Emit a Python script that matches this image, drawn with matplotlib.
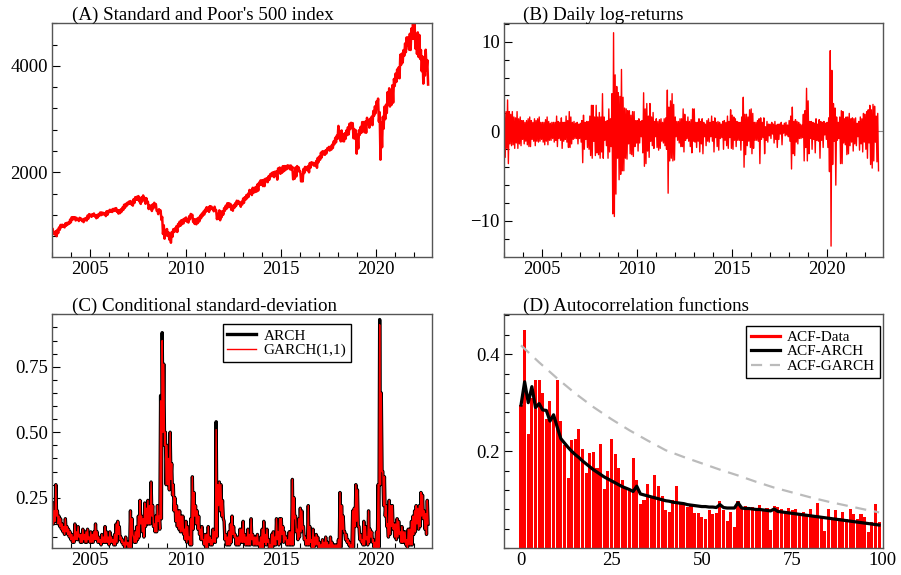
import matplotlib
matplotlib.use("Agg")
import matplotlib.pyplot as plt
from matplotlib.lines import Line2D
from matplotlib.ticker import MultipleLocator
import numpy as np

plt.rcParams['font.family'] = ['Liberation Serif', 'DejaVu Serif']

# --- monthly data, Jan 2003 .. Sep 2022 ---
START = 2003.0

# (A) S&P 500: monthly high / low of the daily close
spx_hi = [
    931, 860, 895, 919, 964, 1011, 1015, 1009, 1039, 1050, 1059, 1112,      # 2003
    1155, 1157, 1156, 1145, 1122, 1145, 1129, 1108, 1129, 1142, 1187, 1214,  # 2004
    1202, 1211, 1226, 1191, 1198, 1217, 1245, 1245, 1237, 1233, 1268, 1273,  # 2005
    1295, 1294, 1311, 1318, 1326, 1289, 1282, 1305, 1339, 1389, 1406, 1427,  # 2006
    1448, 1459, 1444, 1495, 1531, 1539, 1553, 1497, 1531, 1565, 1520, 1515,  # 2007
    1447, 1381, 1370, 1397, 1427, 1404, 1285, 1306, 1282, 1161, 1005, 916,   # 2008
    934, 870, 833, 877, 930, 946, 987, 1028, 1072, 1097, 1110, 1128,         # 2009
    1150, 1109, 1174, 1217, 1202, 1116, 1115, 1127, 1148, 1186, 1225, 1260,  # 2010
    1299, 1344, 1333, 1364, 1357, 1320, 1353, 1287, 1216, 1285, 1262, 1266,  # 2011
    1326, 1372, 1417, 1419, 1406, 1363, 1385, 1419, 1466, 1461, 1428, 1446,  # 2012
    1507, 1530, 1570, 1597, 1669, 1655, 1709, 1707, 1726, 1772, 1807, 1848,  # 2013
    1848, 1859, 1878, 1890, 1924, 1963, 1988, 2003, 2011, 2018, 2073, 2090,  # 2014
    2063, 2115, 2117, 2117, 2131, 2124, 2128, 2102, 1995, 2090, 2117, 2092,  # 2015
    2016, 1951, 2063, 2102, 2099, 2119, 2175, 2190, 2180, 2164, 2213, 2272,  # 2016
    2298, 2370, 2396, 2391, 2415, 2453, 2477, 2481, 2519, 2581, 2648, 2690,  # 2017
    2873, 2762, 2787, 2708, 2733, 2786, 2847, 2914, 2931, 2925, 2814, 2790,  # 2018
    2705, 2792, 2854, 2945, 2945, 2954, 3025, 2980, 3007, 3047, 3154, 3240,  # 2019
    3330, 3386, 3130, 2939, 3044, 3232, 3272, 3508, 3580, 3535, 3638, 3756,  # 2020
    3855, 3934, 3975, 4211, 4232, 4298, 4423, 4537, 4537, 4605, 4705, 4793,  # 2021
    4797, 4589, 4631, 4583, 4300, 4177, 4130, 4305, 4110,                    # 2022
]
spx_lo = [
    844, 827, 800, 858, 920, 968, 975, 965, 995, 1018, 1035, 1061,
    1106, 1128, 1095, 1107, 1084, 1116, 1084, 1064, 1099, 1095, 1130, 1177,
    1163, 1189, 1172, 1137, 1154, 1190, 1194, 1208, 1208, 1177, 1202, 1248,
    1262, 1254, 1273, 1285, 1256, 1224, 1234, 1263, 1294, 1331, 1364, 1396,
    1409, 1399, 1374, 1424, 1484, 1487, 1455, 1406, 1453, 1500, 1409, 1445,
    1310, 1326, 1273, 1324, 1375, 1278, 1214, 1249, 1106, 840, 752, 816,
    805, 735, 676, 789, 880, 893, 879, 979, 995, 1025, 1042, 1088,
    1073, 1056, 1116, 1178, 1067, 1030, 1023, 1047, 1081, 1137, 1178, 1206,
    1258, 1276, 1256, 1305, 1316, 1268, 1292, 1119, 1129, 1099, 1158, 1205,
    1277, 1313, 1343, 1358, 1295, 1278, 1334, 1365, 1403, 1408, 1353, 1398,
    1426, 1485, 1512, 1541, 1597, 1573, 1614, 1630, 1639, 1656, 1762, 1775,
    1741, 1741, 1834, 1815, 1862, 1924, 1930, 1909, 1946, 1862, 2018, 1972,
    1992, 2020, 2040, 2061, 2080, 2058, 2046, 1868, 1882, 1923, 2023, 2012,
    1829, 1829, 1986, 2041, 2040, 2000, 2089, 2157, 2127, 2126, 2085, 2191,
    2238, 2280, 2341, 2329, 2357, 2419, 2409, 2426, 2457, 2529, 2564, 2629,
    2695, 2581, 2588, 2581, 2629, 2699, 2714, 2813, 2877, 2641, 2633, 2351,
    2448, 2706, 2744, 2867, 2752, 2744, 2964, 2840, 2906, 2887, 3066, 3113,
    3225, 2954, 2237, 2471, 2820, 2999, 3115, 3271, 3237, 3270, 3310, 3622,
    3700, 3773, 3768, 4019, 4063, 4192, 4258, 4387, 4307, 4300, 4513, 4513,
    4326, 4225, 4170, 4132, 3901, 3667, 3818, 3924, 3650,
]

# (B) daily log-returns (%): monthly maximum / minimum
ret_hi = [
    1.9, 2.2, 3.5, 2.2, 1.9, 2.2, 1.6, 1.5, 2.2, 1.4, 1.6, 1.2,
    1.2, 1.0, 1.2, 1.4, 1.6, 1.2, 1.0, 1.4, 1.2, 1.4, 1.6, 1.0,
    1.0, 1.0, 1.3, 1.6, 1.1, 0.9, 1.0, 1.0, 1.0, 1.7, 1.1, 1.0,
    1.5, 1.0, 1.0, 1.7, 1.2, 2.2, 1.6, 1.0, 1.1, 0.9, 1.0, 0.8,
    0.9, 1.2, 1.8, 1.0, 1.1, 1.1, 1.7, 2.9, 2.9, 1.6, 2.9, 1.6,
    2.1, 1.6, 4.2, 1.6, 1.1, 1.2, 2.5, 1.4, 4.2, 11.0, 6.3, 5.0,
    4.3, 3.9, 6.9, 3.8, 2.6, 2.5, 2.3, 2.3, 1.8, 2.2, 2.2, 1.2,
    1.2, 1.4, 1.1, 1.2, 4.3, 2.5, 3.1, 1.7, 3.1, 1.6, 2.1, 1.1,
    1.4, 1.1, 1.3, 1.4, 1.0, 1.4, 1.5, 4.6, 2.7, 3.4, 4.2, 3.0,
    1.6, 1.1, 1.1, 1.4, 1.4, 2.5, 1.9, 1.1, 1.6, 1.1, 1.3, 2.5,
    2.5, 1.0, 1.0, 1.4, 1.1, 1.4, 1.0, 0.8, 1.2, 1.4, 1.0, 1.7,
    1.1, 1.5, 1.0, 1.1, 1.0, 0.8, 1.1, 1.2, 1.0, 1.7, 1.1, 2.4,
    1.8, 1.6, 1.4, 1.1, 1.0, 1.0, 1.6, 3.8, 1.9, 1.9, 1.6, 2.4,
    2.5, 2.0, 1.0, 1.0, 1.2, 1.4, 1.5, 1.0, 1.5, 0.5, 1.1, 0.8,
    0.8, 1.0, 0.8, 1.1, 0.7, 0.8, 0.8, 1.0, 0.7, 0.9, 1.0, 0.7,
    1.2, 1.7, 2.7, 1.1, 1.3, 1.1, 1.0, 0.8, 0.7, 1.9, 2.3, 4.8,
    3.4, 1.1, 1.1, 1.0, 0.9, 1.4, 0.8, 1.3, 1.1, 1.0, 1.1, 0.9,
    1.0, 1.5, 9.0, 6.8, 3.1, 2.6, 1.6, 1.0, 1.6, 2.3, 2.2, 1.4,
    1.6, 1.6, 2.0, 1.4, 1.5, 1.4, 1.5, 0.9, 1.1, 1.6, 1.4, 2.0,
    1.9, 2.2, 2.4, 2.9, 2.4, 3.0, 2.8, 1.7, 2.0,
]
ret_lo = [
    -2.9, -1.9, -3.6, -1.4, -1.6, -1.5, -1.9, -1.3, -1.9, -1.4, -1.6, -0.9,
    -1.4, -1.1, -1.5, -1.7, -1.7, -0.9, -1.1, -1.6, -1.1, -1.2, -1.1, -0.9,
    -1.2, -1.5, -1.1, -1.5, -1.0, -1.0, -0.8, -1.2, -1.0, -1.7, -0.8, -1.0,
    -1.9, -1.1, -0.9, -1.2, -1.8, -1.8, -1.4, -0.9, -0.8, -0.8, -1.4, -0.8,
    -1.2, -3.5, -2.0, -0.9, -1.8, -2.0, -2.7, -3.0, -1.1, -2.7, -2.4, -2.6,
    -3.0, -2.3, -3.0, -1.0, -1.6, -3.0, -2.3, -1.7, -9.2, -9.5, -7.0, -3.0,
    -5.4, -4.8, -4.4, -4.4, -3.0, -3.1, -1.4, -2.5, -2.6, -2.8, -1.7, -1.3,
    -2.2, -1.3, -0.6, -2.4, -3.9, -3.6, -2.2, -2.9, -1.1, -1.6, -1.9, -0.6,
    -1.8, -2.1, -1.9, -1.1, -1.3, -1.6, -2.0, -6.9, -3.3, -3.0, -3.3, -3.2,
    -0.6, -1.0, -1.3, -1.7, -1.7, -2.3, -1.0, -0.8, -1.1, -1.7, -2.4, -1.1,
    -1.2, -1.8, -1.1, -2.3, -1.4, -2.5, -0.6, -1.6, -1.1, -1.2, -0.6, -1.1,
    -2.3, -0.7, -1.7, -2.1, -0.8, -0.7, -2.0, -1.0, -1.6, -1.9, -0.7, -1.9,
    -2.0, -1.0, -1.7, -1.0, -1.0, -2.1, -1.0, -4.0, -2.6, -1.6, -1.1, -1.8,
    -2.5, -1.9, -1.0, -1.0, -1.1, -3.6, -0.9, -0.7, -2.5, -1.0, -1.2, -0.5,
    -0.8, -0.3, -1.3, -0.9, -1.8, -0.9, -0.3, -1.5, -0.2, -0.5, -0.4, -0.6,
    -1.1, -4.2, -2.5, -2.7, -1.2, -1.4, -0.8, -0.8, -0.7, -3.3, -1.8, -3.3,
    -2.5, -0.8, -2.0, -0.9, -2.4, -1.0, -1.1, -3.0, -1.0, -1.8, -0.4, -0.9,
    -1.8, -4.5, -12.8, -3.7, -1.1, -6.0, -1.0, -0.8, -3.6, -3.6, -1.3, -1.5,
    -2.6, -2.5, -1.6, -1.2, -2.2, -1.4, -1.6, -0.6, -2.1, -1.4, -2.3, -1.2,
    -2.0, -3.0, -1.3, -3.7, -4.1, -3.3, -1.2, -3.4, -4.4,
]

# (C) conditional standard deviation, GARCH(1,1): monthly high / low
garch_hi = [
    0.23, 0.20, 0.30, 0.20, 0.18, 0.17, 0.15, 0.14, 0.17, 0.14, 0.13, 0.12,
    0.11, 0.10, 0.15, 0.12, 0.14, 0.11, 0.11, 0.13, 0.11, 0.12, 0.13, 0.10,
    0.12, 0.11, 0.12, 0.15, 0.12, 0.10, 0.09, 0.11, 0.10, 0.14, 0.12, 0.10,
    0.12, 0.10, 0.09, 0.11, 0.15, 0.16, 0.14, 0.10, 0.09, 0.08, 0.10, 0.08,
    0.08, 0.20, 0.17, 0.10, 0.12, 0.14, 0.18, 0.24, 0.18, 0.17, 0.23, 0.21,
    0.24, 0.22, 0.31, 0.22, 0.15, 0.18, 0.22, 0.18, 0.62, 0.85, 0.76, 0.50,
    0.45, 0.40, 0.50, 0.38, 0.30, 0.25, 0.22, 0.20, 0.20, 0.18, 0.18, 0.13,
    0.16, 0.14, 0.10, 0.17, 0.33, 0.27, 0.22, 0.20, 0.18, 0.13, 0.14, 0.09,
    0.11, 0.11, 0.14, 0.10, 0.09, 0.13, 0.12, 0.51, 0.30, 0.31, 0.30, 0.24,
    0.16, 0.11, 0.10, 0.12, 0.15, 0.18, 0.14, 0.11, 0.10, 0.10, 0.13, 0.13,
    0.16, 0.11, 0.10, 0.13, 0.11, 0.17, 0.11, 0.10, 0.10, 0.11, 0.08, 0.10,
    0.13, 0.16, 0.11, 0.13, 0.09, 0.07, 0.11, 0.12, 0.10, 0.17, 0.12, 0.17,
    0.17, 0.14, 0.12, 0.10, 0.09, 0.12, 0.12, 0.32, 0.25, 0.18, 0.13, 0.17,
    0.21, 0.20, 0.14, 0.10, 0.09, 0.22, 0.14, 0.09, 0.13, 0.10, 0.11, 0.10,
    0.08, 0.07, 0.09, 0.08, 0.10, 0.08, 0.07, 0.10, 0.08, 0.07, 0.07, 0.07,
    0.09, 0.27, 0.22, 0.18, 0.12, 0.11, 0.09, 0.08, 0.07, 0.20, 0.21, 0.30,
    0.28, 0.14, 0.11, 0.09, 0.16, 0.14, 0.10, 0.20, 0.13, 0.12, 0.09, 0.08,
    0.12, 0.30, 0.91, 0.65, 0.35, 0.33, 0.22, 0.15, 0.24, 0.22, 0.22, 0.15,
    0.15, 0.17, 0.16, 0.12, 0.14, 0.12, 0.12, 0.09, 0.13, 0.13, 0.16, 0.18,
    0.20, 0.22, 0.21, 0.22, 0.27, 0.26, 0.20, 0.19, 0.24,
]
garch_lo = [
    0.15, 0.16, 0.18, 0.15, 0.14, 0.13, 0.12, 0.11, 0.12, 0.11, 0.10, 0.09,
    0.08, 0.08, 0.09, 0.09, 0.10, 0.08, 0.08, 0.09, 0.08, 0.08, 0.09, 0.08,
    0.08, 0.08, 0.09, 0.09, 0.08, 0.08, 0.07, 0.08, 0.08, 0.08, 0.08, 0.07,
    0.08, 0.08, 0.07, 0.07, 0.08, 0.11, 0.09, 0.08, 0.07, 0.06, 0.07, 0.06,
    0.06, 0.06, 0.11, 0.08, 0.08, 0.09, 0.10, 0.15, 0.12, 0.10, 0.14, 0.15,
    0.15, 0.15, 0.18, 0.14, 0.12, 0.12, 0.16, 0.13, 0.17, 0.50, 0.45, 0.30,
    0.30, 0.28, 0.32, 0.26, 0.20, 0.16, 0.14, 0.13, 0.12, 0.12, 0.11, 0.09,
    0.08, 0.09, 0.07, 0.07, 0.13, 0.18, 0.15, 0.13, 0.11, 0.09, 0.09, 0.07,
    0.06, 0.06, 0.08, 0.07, 0.07, 0.08, 0.08, 0.10, 0.22, 0.20, 0.18, 0.17,
    0.09, 0.07, 0.07, 0.07, 0.08, 0.11, 0.10, 0.07, 0.07, 0.07, 0.08, 0.08,
    0.08, 0.07, 0.07, 0.07, 0.07, 0.09, 0.07, 0.07, 0.07, 0.07, 0.06, 0.06,
    0.06, 0.08, 0.07, 0.08, 0.06, 0.06, 0.06, 0.07, 0.07, 0.09, 0.07, 0.08,
    0.11, 0.08, 0.09, 0.07, 0.07, 0.07, 0.07, 0.07, 0.17, 0.12, 0.09, 0.10,
    0.12, 0.13, 0.09, 0.07, 0.07, 0.07, 0.08, 0.06, 0.06, 0.07, 0.07, 0.06,
    0.06, 0.06, 0.06, 0.06, 0.06, 0.06, 0.05, 0.06, 0.06, 0.05, 0.05, 0.05,
    0.05, 0.06, 0.13, 0.12, 0.09, 0.08, 0.07, 0.06, 0.06, 0.06, 0.14, 0.16,
    0.14, 0.09, 0.08, 0.07, 0.07, 0.09, 0.07, 0.08, 0.10, 0.08, 0.06, 0.06,
    0.06, 0.06, 0.30, 0.35, 0.22, 0.18, 0.14, 0.10, 0.11, 0.14, 0.13, 0.10,
    0.09, 0.10, 0.11, 0.08, 0.08, 0.08, 0.07, 0.06, 0.07, 0.07, 0.07, 0.11,
    0.12, 0.15, 0.13, 0.14, 0.18, 0.17, 0.13, 0.11, 0.15,
]
# ARCH follows GARCH closely except at these monthly peaks (month index: value)
arch_peaks = {68: 0.64, 69: 0.88, 103: 0.54, 206: 0.93}

# (D) autocorrelations, lags 0..99
acf_data = [
    0.295, 0.449, 0.236, 0.310, 0.346, 0.346, 0.320, 0.267, 0.303, 0.270,
    0.346, 0.262, 0.212, 0.145, 0.224, 0.226, 0.245, 0.205, 0.155, 0.196,
    0.198, 0.165, 0.215, 0.123, 0.160, 0.225, 0.195, 0.165, 0.140, 0.125,
    0.120, 0.185, 0.140, 0.092, 0.100, 0.132, 0.105, 0.152, 0.128, 0.107,
    0.078, 0.075, 0.100, 0.128, 0.095, 0.093, 0.085, 0.090, 0.073, 0.073,
    0.065, 0.061, 0.078, 0.071, 0.072, 0.097, 0.078, 0.056, 0.075, 0.044,
    0.098, 0.085, 0.087, 0.085, 0.085, 0.082, 0.089, 0.076, 0.084, 0.037,
    0.087, 0.085, 0.080, 0.075, 0.083, 0.078, 0.082, 0.072, 0.075, 0.070,
    0.082, 0.068, 0.093, 0.065, 0.036, 0.080, 0.062, 0.078, 0.062, 0.075,
    0.060, 0.082, 0.070, 0.060, 0.070, 0.065, 0.034, 0.055, 0.091, 0.054,
]
acf_arch = [
    0.295, 0.343, 0.300, 0.333, 0.290, 0.298, 0.285, 0.284, 0.262, 0.275,
    0.250, 0.226, 0.217, 0.208, 0.200, 0.193, 0.187, 0.180, 0.174, 0.168,
    0.162, 0.157, 0.152, 0.147, 0.143, 0.139, 0.135, 0.131, 0.127, 0.124,
    0.121, 0.117, 0.128, 0.112, 0.110, 0.108, 0.106, 0.104, 0.102, 0.100,
    0.098, 0.097, 0.095, 0.094, 0.093, 0.092, 0.090, 0.089, 0.088, 0.087,
    0.086, 0.086, 0.085, 0.085, 0.084, 0.090, 0.084, 0.083, 0.083, 0.083,
    0.094, 0.083, 0.082, 0.082, 0.081, 0.080, 0.080, 0.079, 0.078, 0.077,
    0.081, 0.076, 0.075, 0.074, 0.073, 0.072, 0.071, 0.070, 0.069, 0.068,
    0.067, 0.066, 0.065, 0.064, 0.063, 0.062, 0.061, 0.060, 0.059, 0.058,
    0.057, 0.056, 0.055, 0.054, 0.053, 0.052, 0.051, 0.050, 0.049, 0.048,
]
garch_lags = [0, 5, 10, 15, 20, 25, 30, 35, 40, 45, 50, 55, 60, 65, 70, 75, 80, 85, 90, 95, 99]
acf_garch = [0.418, 0.383, 0.350, 0.319, 0.291, 0.266, 0.243, 0.222, 0.202, 0.188, 0.175,
             0.162, 0.150, 0.137, 0.125, 0.115, 0.105, 0.096, 0.088, 0.080, 0.074]

titles = ["(A) Standard and Poor's 500 index", "(B) Daily log-returns",
          "(C) Conditional standard-deviation", "(D) Autocorrelation functions"]


def zigzag(hi, lo):
    # one high and one low per month, drawn as a continuous trace
    n = len(hi)
    months = START + np.arange(n) / 12.0
    t = np.empty(2 * n)
    y = np.empty(2 * n)
    t[0::2] = months + 1 / 48
    t[1::2] = months + 3 / 48
    y[0::2] = hi
    y[1::2] = lo
    return t, y


def style(ax, title, tx):
    for s in ax.spines.values():
        s.set_color('#555555')
        s.set_linewidth(1.0)
    ax.tick_params(which='both', direction='in', top=False, right=False,
                   labelsize=13.5, colors='black', width=0.8)
    ax.tick_params(which='major', length=6, pad=3)
    ax.tick_params(which='minor', length=3.5)
    ax.text(tx, 1.016, title, transform=ax.transAxes, ha='left', va='baseline',
            fontsize=13.7)


def year_axis(ax):
    ax.set_xlim(2003.0, 2022.95)
    ax.set_xticks([2005, 2010, 2015, 2020])
    ax.xaxis.set_minor_locator(MultipleLocator(1))


fig = plt.figure(figsize=(9.01, 5.75), dpi=100)
axA = fig.add_axes([0.0580, 0.5536, 0.4218, 0.4059])
axB = fig.add_axes([0.5594, 0.5536, 0.4203, 0.4059])
axC = fig.add_axes([0.0580, 0.0464, 0.4218, 0.4070])
axD = fig.add_axes([0.5594, 0.0464, 0.4203, 0.4070])

# (A)
t, y = zigzag(spx_hi, spx_lo)
axA.plot(t, y, color='red', lw=1.8)
year_axis(axA)
axA.set_ylim(414, 4802)
axA.set_yticks([2000, 4000])
axA.yaxis.set_minor_locator(MultipleLocator(400))
style(axA, titles[0], 0.052)

# (B)
t, y = zigzag(ret_hi, ret_lo)
axB.axhline(0, color='0.55', lw=0.8, zorder=1)
axB.plot(t, y, color='red', lw=1.0, zorder=2)
year_axis(axB)
axB.set_ylim(-13.98, 12.05)
axB.set_yticks([-10, 0, 10])
axB.yaxis.set_minor_locator(MultipleLocator(2))
style(axB, titles[1], 0.049)

# (C)
arch_hi = list(garch_hi)
for k, v in arch_peaks.items():
    arch_hi[k] = v
t, ya = zigzag(arch_hi, garch_lo)
axC.plot(t, ya, color='black', lw=2.4, label='ARCH')
t, yg = zigzag(garch_hi, garch_lo)
axC.plot(t, yg, color='red', lw=1.0, label='GARCH(1,1)')
year_axis(axC)
axC.set_ylim(0.057, 0.95)
axC.set_yticks([0.25, 0.50, 0.75])
axC.set_yticklabels(['0.25', '0.50', '0.75'])
axC.yaxis.set_minor_locator(MultipleLocator(0.05))
style(axC, titles[2], 0.051)
legC = axC.legend(loc='upper left', bbox_to_anchor=(0.448, 0.957), borderaxespad=0,
                  fancybox=False, edgecolor='black', framealpha=1, fontsize=11,
                  handlelength=1.9, handletextpad=0.5, labelspacing=0.05, borderpad=0.3)
legC.get_frame().set_linewidth(1.0)

# (D)
lags = np.arange(len(acf_data))
axD.bar(lags, acf_data, width=0.85, color='red', edgecolor='none', zorder=1)
axD.plot(lags, acf_arch, color='black', lw=2.3, zorder=3)
axD.plot(garch_lags, acf_garch, color='#bbbbbb', lw=1.6, dashes=(5, 3.5), zorder=2)
axD.set_xlim(-4.7, 100)
axD.set_ylim(0, 0.482)
axD.set_xticks([0, 25, 50, 75, 100])
axD.set_yticks([0.2, 0.4])
axD.yaxis.set_minor_locator(MultipleLocator(0.04))
style(axD, titles[3], 0.049)
axD.tick_params(axis='x', which='both', length=0)
handles = [Line2D([], [], color='red', lw=2.3),
           Line2D([], [], color='black', lw=2.3),
           Line2D([], [], color='#bbbbbb', lw=1.6, dashes=(5, 3.5))]
legD = axD.legend(handles, ['ACF-Data', 'ACF-ARCH', 'ACF-GARCH'], loc='upper left',
                  bbox_to_anchor=(0.639, 0.951), borderaxespad=0, fancybox=False,
                  edgecolor='black', framealpha=1, fontsize=11, handlelength=1.9,
                  handletextpad=0.5, labelspacing=0.05, borderpad=0.3)
legD.get_frame().set_linewidth(1.0)

fig.savefig('out.png', dpi=100)
